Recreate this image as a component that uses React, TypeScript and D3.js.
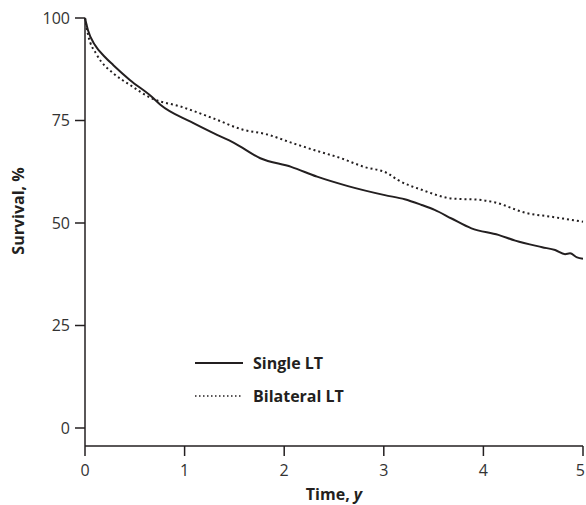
import * as d3 from 'd3';

const singleTime = [0, 0.03, 0.1, 0.2, 0.285, 0.45, 0.67, 0.76, 1.06, 1.29, 1.5, 1.76, 2.07, 2.33, 2.64, 3.01, 3.21, 3.38, 3.51, 3.68, 3.88, 4.15, 4.32, 4.59, 4.72, 4.82, 4.87, 4.94, 5.0];
const singleSurv = [100, 97, 93.4, 90.5, 88.5, 84.9, 80.8, 78.8, 74.7, 71.9, 69.5, 65.8, 63.7, 61.3, 59, 56.8, 55.8, 54.4, 53.2, 51.1, 48.7, 47.1, 45.7, 44.1, 43.4, 42.4, 42.6, 41.6, 41.3];

const bilatTime = [0, 0.03, 0.12, 0.285, 0.45, 0.67, 0.96, 1.29, 1.58, 1.83, 2.07, 2.3, 2.57, 2.8, 3.04, 3.14, 3.38, 3.68, 3.98, 4.12, 4.42, 4.69, 5.0];
const bilatSurv = [100, 96, 91, 86.5, 83.7, 80.4, 78.4, 75.5, 72.8, 71.6, 69.6, 67.8, 65.8, 63.7, 62.1, 60.5, 58.1, 56, 55.6, 55, 52.5, 51.5, 50.3];

const xTicks = [0, 1, 2, 3, 4, 5];
const yTicks = [0, 25, 50, 75, 100];

const series = [
  { label: 'Single LT', t: singleTime, s: singleSurv, dash: null },
  { label: 'Bilateral LT', t: bilatTime, s: bilatSurv, dash: '2,3' },
];

const font = '"Open Sans", sans-serif';
const ink = '#231f20';

export default function App() {
  const width = 586;
  const height = 505;
  const x = d3.scaleLinear().domain([0, 5]).range([85, 583]);
  const y = d3.scaleLinear().domain([0, 100]).range([428, 18]);
  const axisY = 446;

  const line = d3.line<[number, number]>()
    .x((d) => x(d[0]))
    .y((d) => y(d[1]))
    .curve(d3.curveMonotoneX);

  return (
    <svg width={width} height={height} style={{ position: 'absolute', left: 0, top: 0 }}>
      <rect width={width} height={height} fill="#fff" />

      {/* Curves */}
      {series.map((sr, i) => (
        <path
          key={i}
          d={line(sr.t.map((t, j) => [t, sr.s[j]]) as [number, number][]) || ''}
          fill="none"
          stroke={ink}
          strokeWidth={2}
          strokeDasharray={sr.dash || undefined}
          strokeLinejoin="round"
        />
      ))}

      {/* Y axis */}
      <line x1={x(0)} x2={x(0)} y1={y(100)} y2={axisY} stroke={ink} strokeWidth={1.5} />
      {yTicks.map((t) => (
        <g key={t} transform={`translate(${x(0)},${y(t)})`}>
          <line x1={-10} x2={0} stroke={ink} strokeWidth={1.5} />
          <text x={-15} dy="0.35em" textAnchor="end" fontSize={16} fontFamily={font} fill="#333">
            {t}
          </text>
        </g>
      ))}
      <text
        transform={`translate(24,211) rotate(-90)`}
        textAnchor="middle"
        fontSize={16}
        fontWeight="bold"
        fontFamily={font}
        fill={ink}
      >
        Survival, %
      </text>

      {/* X axis */}
      <line x1={x(0)} x2={x(5)} y1={axisY} y2={axisY} stroke={ink} strokeWidth={1.5} />
      {xTicks.map((t, i) => {
        const last = i === xTicks.length - 1;
        return (
          <g key={t} transform={`translate(${x(t)},${axisY})`}>
            <line y1={0} y2={10} stroke={ink} strokeWidth={1.5} />
            <text
              x={last ? 2 : 0}
              y={30}
              textAnchor={last ? 'end' : 'middle'}
              fontSize={16}
              fontFamily={font}
              fill="#333"
            >
              {t}
            </text>
          </g>
        );
      })}
      <text x={(x(0) + x(5)) / 2} y={500} textAnchor="middle" fontSize={16} fontWeight="bold" fontFamily={font} fill={ink}>
        Time, <tspan fontStyle="italic">y</tspan>
      </text>

      {/* Legend */}
      {series.map((sr, i) => (
        <g key={i} transform={`translate(195,${363 + i * 33})`}>
          <line x1={0} x2={48} stroke={ink} strokeWidth={sr.dash ? 1.5 : 2} strokeDasharray={sr.dash ? '1.5,2.5' : undefined} />
          <text x={58} dy="0.35em" fontSize={16} fontWeight="bold" fontFamily={font} fill={ink}>
            {sr.label}
          </text>
        </g>
      ))}
    </svg>
  );
}
